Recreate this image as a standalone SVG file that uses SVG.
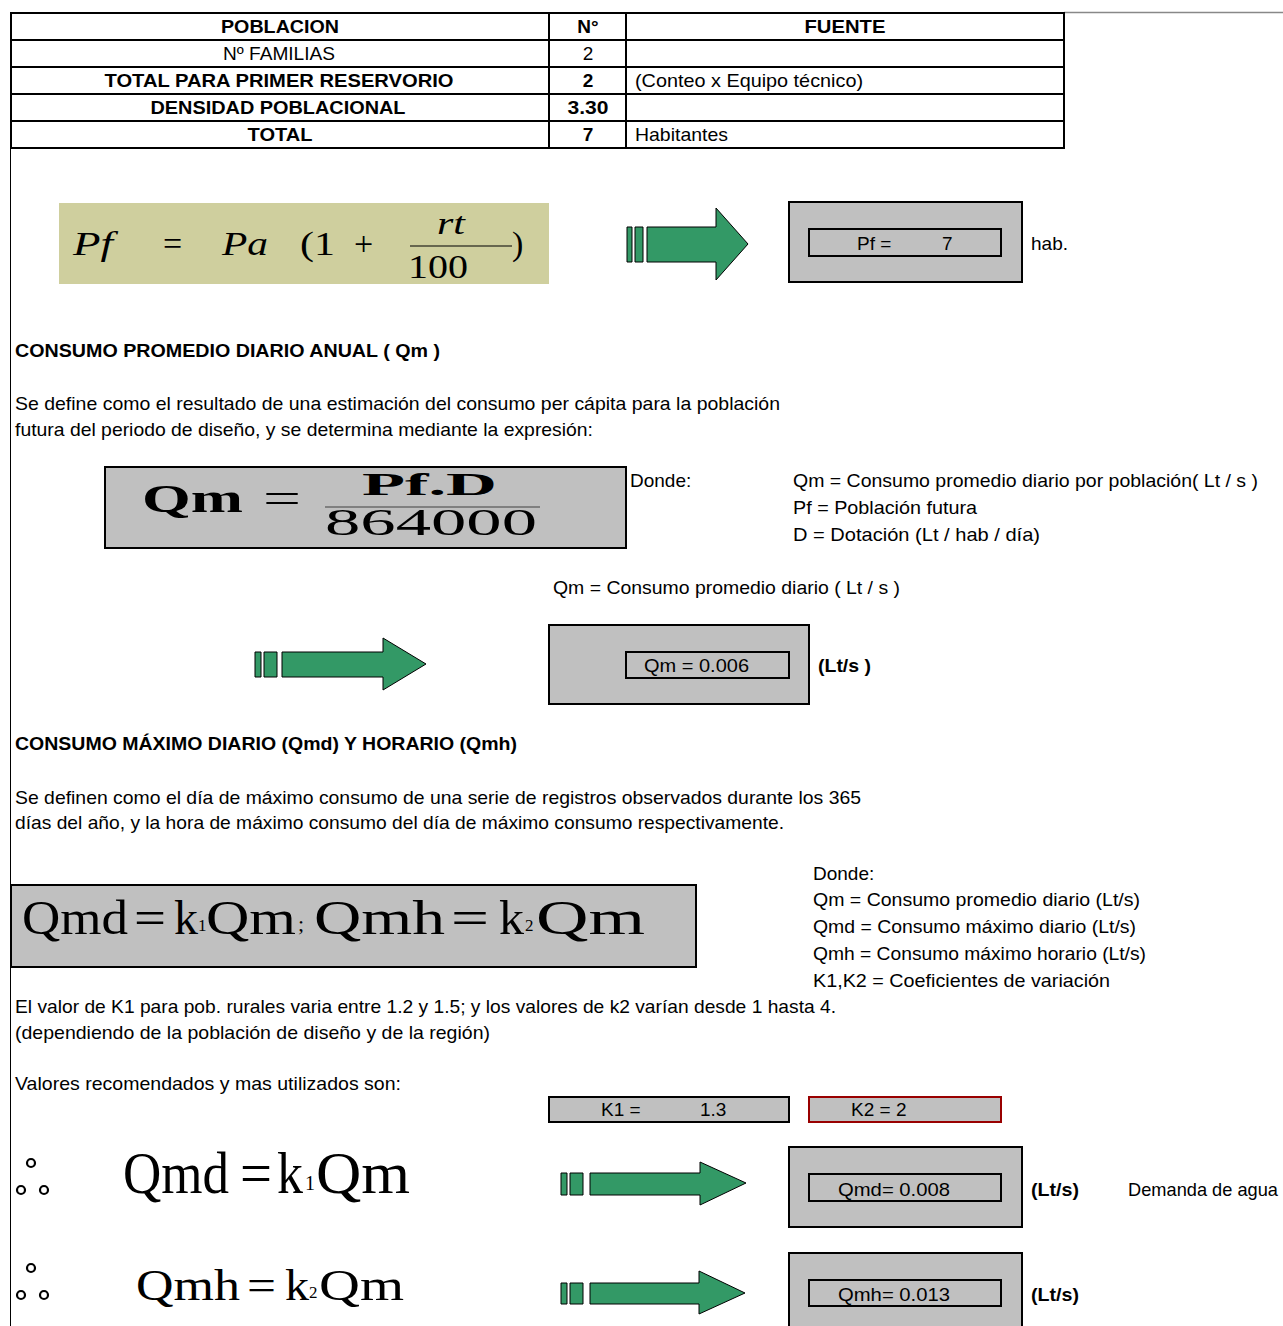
<svg xmlns="http://www.w3.org/2000/svg" width="1283" height="1326" viewBox="0 0 1283 1326">
<style>
.t{font-family:"Liberation Sans",Arial,sans-serif;font-size:19px;fill:#000}
.b{font-weight:bold}
.m{text-anchor:middle}
.s{font-family:"Liberation Serif","Times New Roman",serif;fill:#000}
.i{font-style:italic}
.arr{fill:#339966;stroke:#000;stroke-width:1}
.box{fill:#C0C0C0;stroke:#000;stroke-width:2}
.cell{fill:none;stroke:#000;stroke-width:2}
.dot{fill:none;stroke:#000;stroke-width:2.2}
</style>
<rect width="1283" height="1326" fill="#fff"/>
<line x1="1064" y1="12.5" x2="1283" y2="12.5" stroke="#888" stroke-width="1.5"/>
<line x1="10.5" y1="148" x2="10.5" y2="1326" stroke="#000" stroke-width="1"/>

<g id="table">
<rect x="11" y="13" width="1053" height="135" class="cell"/>
<line x1="11" y1="40" x2="1064" y2="40" stroke="#000" stroke-width="2"/>
<line x1="11" y1="67" x2="1064" y2="67" stroke="#000" stroke-width="2"/>
<line x1="11" y1="94" x2="1064" y2="94" stroke="#000" stroke-width="2"/>
<line x1="11" y1="121" x2="1064" y2="121" stroke="#000" stroke-width="2"/>
<line x1="549" y1="13" x2="549" y2="148" stroke="#000" stroke-width="2"/>
<line x1="626" y1="13" x2="626" y2="148" stroke="#000" stroke-width="2"/>
<text class="t b m" x="280" y="33" textLength="118" lengthAdjust="spacingAndGlyphs">POBLACION</text>
<text class="t b m" x="588" y="33">N°</text>
<text class="t b m" x="845" y="33" textLength="81" lengthAdjust="spacingAndGlyphs">FUENTE</text>
<text class="t m" x="279" y="60" textLength="112" lengthAdjust="spacingAndGlyphs">Nº FAMILIAS</text>
<text class="t m" x="588" y="60">2</text>
<text class="t b m" x="279" y="87" textLength="349" lengthAdjust="spacingAndGlyphs">TOTAL PARA PRIMER RESERVORIO</text>
<text class="t b m" x="588" y="87">2</text>
<text class="t" x="635" y="87" textLength="228" lengthAdjust="spacingAndGlyphs">(Conteo x  Equipo técnico)</text>
<text class="t b m" x="278" y="114" textLength="255" lengthAdjust="spacingAndGlyphs">DENSIDAD POBLACIONAL</text>
<text class="t b m" x="588" y="114" textLength="41" lengthAdjust="spacingAndGlyphs">3.30</text>
<text class="t b m" x="280" y="141" textLength="65" lengthAdjust="spacingAndGlyphs">TOTAL</text>
<text class="t b m" x="588" y="141">7</text>
<text class="t" x="635" y="141" textLength="93" lengthAdjust="spacingAndGlyphs">Habitantes</text>
</g>

<g id="formula-pf">
<rect x="59" y="203" width="490" height="81" fill="#CFCF9E"/>
<text class="s i" x="73" y="255" font-size="34" textLength="40" lengthAdjust="spacingAndGlyphs">Pf</text>
<text class="s" x="163" y="255" font-size="34">=</text>
<text class="s i" x="222" y="255" font-size="34" textLength="46" lengthAdjust="spacingAndGlyphs">Pa</text>
<text class="s" x="300" y="255" font-size="34" textLength="35" lengthAdjust="spacingAndGlyphs">(1</text>
<text class="s" x="354" y="255" font-size="34">+</text>
<text class="s i" x="437" y="234" font-size="31" textLength="28" lengthAdjust="spacingAndGlyphs">rt</text>
<line x1="410" y1="246" x2="512" y2="246" stroke="#000" stroke-width="1.2"/>
<text class="s" x="408" y="278" font-size="34" textLength="60" lengthAdjust="spacingAndGlyphs">100</text>
<text class="s" x="512" y="255" font-size="34">)</text>
</g>

<g id="connectors">
<path class="arr" d="M627,227h5v35h-5z M635,227h8v35h-8z M647,227h69v-19l32,36l-32,36v-18h-69z"/>
<path class="arr" d="M255,652h6v25h-6z M264,652h13v25h-13z M282,652h101v-14l43,26l-43,26v-13h-101z"/>
<path class="arr" d="M561,1173h6v22h-6z M570,1173h13v22h-13z M590,1173h110v-11l46,21l-46,22v-10h-110z"/>
<path class="arr" d="M561,1283h6v21h-6z M570,1283h13v21h-13z M590,1283h109v-12l46,22l-46,21v-10h-109z"/>
</g>

<g id="result-pf">
<rect x="789" y="202" width="233" height="80" class="box"/>
<rect x="809" y="229" width="192" height="27" class="box"/>
<text class="t" x="857" y="250">Pf =</text>
<text class="t" x="942" y="250">7</text>
<text class="t" x="1031" y="250">hab.</text>
</g>

<g id="section-qm">
<text class="t b" x="15" y="357" textLength="425" lengthAdjust="spacingAndGlyphs">CONSUMO PROMEDIO DIARIO ANUAL ( Qm )</text>
<text class="t" x="15" y="410" textLength="765" lengthAdjust="spacingAndGlyphs">Se define como el resultado de una estimación del consumo per cápita para la población</text>
<text class="t" x="15" y="436" textLength="578" lengthAdjust="spacingAndGlyphs">futura del periodo de diseño, y se determina mediante la expresión:</text>
</g>

<g id="formula-qm">
<rect x="105" y="467" width="521" height="81" class="box"/>
<text class="s b" x="142" y="512" font-size="40" textLength="101" lengthAdjust="spacingAndGlyphs">Qm</text>
<text class="s" x="263" y="512" font-size="42" textLength="38" lengthAdjust="spacingAndGlyphs">=</text>
<text class="s b" x="362" y="495" font-size="32" textLength="135" lengthAdjust="spacingAndGlyphs">Pf.D</text>
<line x1="325" y1="507" x2="540" y2="507" stroke="#808080" stroke-width="2"/>
<text class="s" x="325" y="535" font-size="38" textLength="212" lengthAdjust="spacingAndGlyphs">864000</text>
</g>

<g id="donde-qm">
<text class="t" x="630" y="487">Donde:</text>
<text class="t" x="793" y="487" textLength="465" lengthAdjust="spacingAndGlyphs">Qm = Consumo promedio diario por población( Lt / s )</text>
<text class="t" x="793" y="514" textLength="184" lengthAdjust="spacingAndGlyphs">Pf  = Población futura</text>
<text class="t" x="793" y="541" textLength="247" lengthAdjust="spacingAndGlyphs">D   = Dotación (Lt / hab / día)</text>
<text class="t" x="553" y="594" textLength="347" lengthAdjust="spacingAndGlyphs">Qm = Consumo promedio diario ( Lt / s )</text>
</g>

<g id="result-qm">
<rect x="549" y="625" width="260" height="79" class="box"/>
<rect x="626" y="652" width="163" height="26" class="box"/>
<text class="t" x="644" y="672" textLength="105" lengthAdjust="spacingAndGlyphs">Qm = 0.006</text>
<text class="t b" x="818" y="672" textLength="53" lengthAdjust="spacingAndGlyphs">(Lt/s )</text>
</g>

<g id="section-qmd">
<text class="t b" x="15" y="750" textLength="502" lengthAdjust="spacingAndGlyphs">CONSUMO MÁXIMO DIARIO (Qmd) Y HORARIO (Qmh)</text>
<text class="t" x="15" y="804" textLength="846" lengthAdjust="spacingAndGlyphs">Se definen como el día de máximo consumo de una serie de registros observados durante los 365</text>
<text class="t" x="15" y="829" textLength="769" lengthAdjust="spacingAndGlyphs">días del año, y la hora de máximo consumo del día de máximo consumo respectivamente.</text>
</g>

<g id="formula-qmd-qmh">
<rect x="11" y="885" width="685" height="82" class="box"/>
<text class="s" x="22" y="934" font-size="48" textLength="106" lengthAdjust="spacingAndGlyphs">Qmd</text>
<text class="s" x="134" y="934" font-size="48" textLength="32" lengthAdjust="spacingAndGlyphs">=</text>
<text class="s" x="174" y="934" font-size="48" textLength="24" lengthAdjust="spacingAndGlyphs">k</text>
<text class="s" x="198" y="931" font-size="17">1</text>
<text class="s" x="206" y="934" font-size="48" textLength="90" lengthAdjust="spacingAndGlyphs">Qm</text>
<text class="s" x="298" y="931" font-size="22">;</text>
<text class="s" x="314" y="934" font-size="48" textLength="131" lengthAdjust="spacingAndGlyphs">Qmh</text>
<text class="s" x="451" y="934" font-size="48" textLength="38" lengthAdjust="spacingAndGlyphs">=</text>
<text class="s" x="499" y="934" font-size="48" textLength="25" lengthAdjust="spacingAndGlyphs">k</text>
<text class="s" x="525" y="931" font-size="17">2</text>
<text class="s" x="536" y="934" font-size="48" textLength="109" lengthAdjust="spacingAndGlyphs">Qm</text>
</g>

<g id="donde-qmd">
<text class="t" x="813" y="880">Donde:</text>
<text class="t" x="813" y="906" textLength="327" lengthAdjust="spacingAndGlyphs">Qm = Consumo promedio diario (Lt/s)</text>
<text class="t" x="813" y="933" textLength="323" lengthAdjust="spacingAndGlyphs">Qmd = Consumo máximo diario (Lt/s)</text>
<text class="t" x="813" y="960" textLength="333" lengthAdjust="spacingAndGlyphs">Qmh = Consumo máximo horario (Lt/s)</text>
<text class="t" x="813" y="987" textLength="297" lengthAdjust="spacingAndGlyphs">K1,K2 = Coeficientes de variación</text>
</g>

<g id="text-k">
<text class="t" x="15" y="1013" textLength="821" lengthAdjust="spacingAndGlyphs">El valor de K1 para pob. rurales varia entre 1.2 y 1.5; y los valores de k2 varían desde 1 hasta 4.</text>
<text class="t" x="15" y="1039" textLength="475" lengthAdjust="spacingAndGlyphs">(dependiendo de la población de diseño y de la región)</text>
<text class="t" x="15" y="1090" textLength="386" lengthAdjust="spacingAndGlyphs">Valores recomendados y mas utilizados son:</text>
</g>

<g id="k1">
<rect x="549" y="1097" width="240" height="25" fill="#C0C0C0" stroke="#000" stroke-width="2"/>
<text class="t" x="601" y="1116">K1 =</text>
<text class="t" x="700" y="1116">1.3</text>
</g>
<g id="k2">
<rect x="809" y="1097" width="192" height="25" fill="#C0C0C0" stroke="#990000" stroke-width="2"/>
<text class="t" x="851" y="1116">K2 = 2</text>
</g>

<g id="therefore-1">
<circle cx="31" cy="1163" r="4" class="dot"/>
<circle cx="21" cy="1190" r="4" class="dot"/>
<circle cx="44" cy="1190" r="4" class="dot"/>
</g>
<g id="formula-qmd">
<text class="s" x="123" y="1193" font-size="60" textLength="106" lengthAdjust="spacingAndGlyphs">Qmd</text>
<text class="s" x="240" y="1193" font-size="60" textLength="32" lengthAdjust="spacingAndGlyphs">=</text>
<text class="s" x="277" y="1193" font-size="60" textLength="26" lengthAdjust="spacingAndGlyphs">k</text>
<text class="s" x="305" y="1190" font-size="20">1</text>
<text class="s" x="316" y="1193" font-size="60" textLength="94" lengthAdjust="spacingAndGlyphs">Qm</text>
</g>
<g id="result-qmd">
<rect x="789" y="1147" width="233" height="80" class="box"/>
<rect x="809" y="1174" width="192" height="27" class="box"/>
<text class="t" x="838" y="1196" textLength="112" lengthAdjust="spacingAndGlyphs">Qmd=  0.008</text>
<text class="t b" x="1031" y="1196" textLength="48" lengthAdjust="spacingAndGlyphs">(Lt/s)</text>
<text class="t" x="1128" y="1196" textLength="150" lengthAdjust="spacingAndGlyphs">Demanda de agua</text>
</g>

<g id="therefore-2">
<circle cx="31" cy="1268" r="4" class="dot"/>
<circle cx="21" cy="1295" r="4" class="dot"/>
<circle cx="44" cy="1295" r="4" class="dot"/>
</g>
<g id="formula-qmh">
<text class="s" x="136" y="1300" font-size="44" textLength="104" lengthAdjust="spacingAndGlyphs">Qmh</text>
<text class="s" x="247" y="1300" font-size="44" textLength="29" lengthAdjust="spacingAndGlyphs">=</text>
<text class="s" x="285" y="1300" font-size="44" textLength="24" lengthAdjust="spacingAndGlyphs">k</text>
<text class="s" x="309" y="1298" font-size="17">2</text>
<text class="s" x="319" y="1300" font-size="44" textLength="85" lengthAdjust="spacingAndGlyphs">Qm</text>
</g>
<g id="result-qmh">
<rect x="789" y="1253" width="233" height="80" class="box"/>
<rect x="809" y="1280" width="192" height="26" class="box"/>
<text class="t" x="838" y="1301" textLength="112" lengthAdjust="spacingAndGlyphs">Qmh=  0.013</text>
<text class="t b" x="1031" y="1301" textLength="48" lengthAdjust="spacingAndGlyphs">(Lt/s)</text>
</g>
</svg>
